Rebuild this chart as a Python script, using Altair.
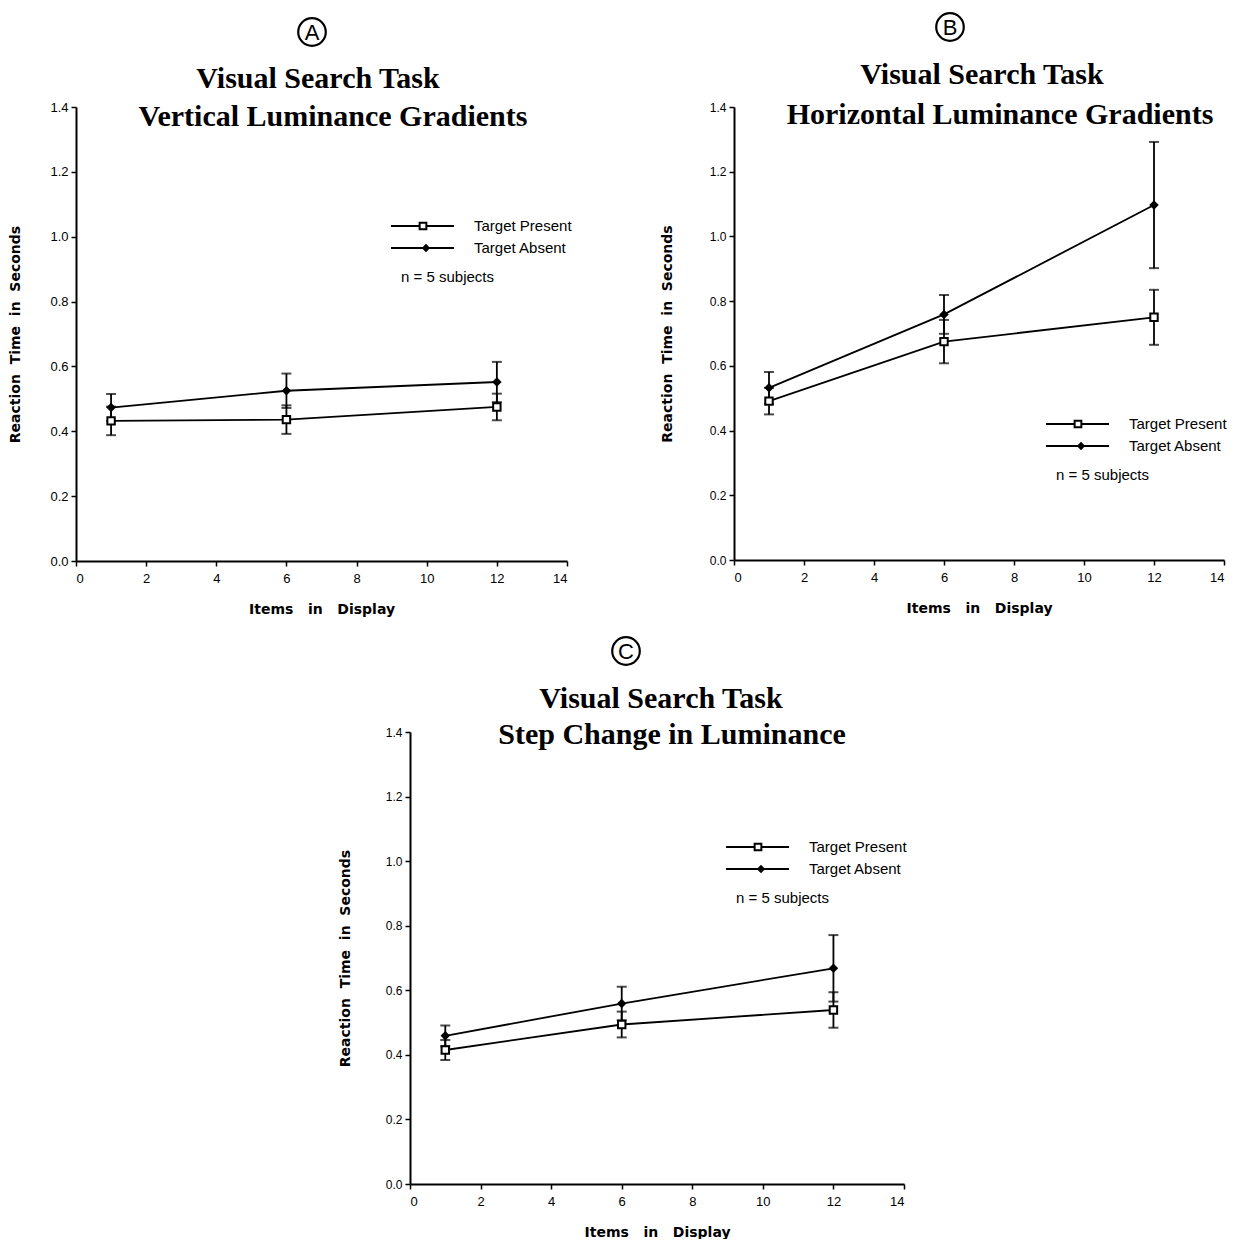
import altair as alt
import pandas as pd

# ---- data ----
items = [1, 6, 12]

a_present = [0.432, 0.436, 0.475]
a_present_err = [0.044, 0.044, 0.041]
a_absent = [0.473, 0.525, 0.552]
a_absent_err = [0.042, 0.053, 0.062]

b_present = [0.491, 0.675, 0.750]
b_present_err = [0.041, 0.067, 0.085]
b_absent = [0.532, 0.759, 1.097]
b_absent_err = [0.049, 0.060, 0.195]

c_present = [0.415, 0.494, 0.539]
c_present_err = [0.031, 0.040, 0.055]
c_absent = [0.459, 0.559, 0.668]
c_absent_err = [0.032, 0.052, 0.103]

series_names = ["Target Present", "Target Absent"]
x_ticks = list(range(0, 15))
y_ticks = [round(i * 0.1, 1) for i in range(0, 15)]

NB = "\u00a0"
x_title = f"Items{NB}{NB}{NB}in{NB}{NB}{NB}Display"
y_title = f"Reaction{NB}{NB}Time{NB}{NB}in{NB}{NB}Seconds"

FONT = "Liberation Sans"
TFONT = "DejaVu Sans"
SERIF = "Liberation Serif"


def make_df(present, present_err, absent, absent_err):
    rows = []
    for x, v, e in zip(items, present, present_err):
        rows.append({"items": x, "rt": v, "lo": v - e, "hi": v + e, "series": series_names[0]})
    for x, v, e in zip(items, absent, absent_err):
        rows.append({"items": x, "rt": v, "lo": v - e, "hi": v + e, "series": series_names[1]})
    return pd.DataFrame(rows)


def panel(letter, line1, line2, df, w, h, lab_size, ytitle_pad,
          letter_xy, t1_xy, t2_xy, leg_y, leg_x0):
    xs = alt.Scale(domain=[0, 14], nice=False)
    ys = alt.Scale(domain=[0, 1.4], nice=False)
    xaxis = alt.Axis(values=x_ticks, title=x_title,
                     labelExpr="datum.value % 2 == 0 ? datum.label : ''",
                     labelFontSize=13, titlePadding=17,
                     labelPadding=6)
    yaxis = alt.Axis(values=y_ticks, title=y_title,
                     labelExpr="round(datum.value*10) % 2 == 0 ? format(datum.value, '.1f') : ''",
                     labelFontSize=lab_size, titlePadding=ytitle_pad)
    base = alt.Chart(df)
    lines = base.mark_line(color="black", strokeWidth=1.8).encode(
        x=alt.X("items:Q", scale=xs, axis=xaxis),
        y=alt.Y("rt:Q", scale=ys, axis=yaxis),
        detail="series:N",
    )
    bars = base.mark_rule(color="black", strokeWidth=1.8).encode(
        x="items:Q", y="lo:Q", y2="hi:Q")
    cap_lo = base.mark_tick(color="black", thickness=2, size=10, orient="horizontal").encode(
        x="items:Q", y="lo:Q")
    cap_hi = base.mark_tick(color="black", thickness=2, size=10, orient="horizontal").encode(
        x="items:Q", y="hi:Q")
    pres = base.transform_filter(alt.datum.series == series_names[0]).mark_point(
        shape="square", filled=True, fill="white", stroke="black", strokeWidth=2, size=55, opacity=1
    ).encode(x="items:Q", y="rt:Q")
    absn = base.transform_filter(alt.datum.series == series_names[1]).mark_point(
        shape="diamond", filled=True, color="black", size=90, opacity=1
    ).encode(x="items:Q", y="rt:Q")

    one = alt.Data(values=[{"k": 0}])
    ann = []
    ann.append(alt.Chart(one).mark_point(shape="circle", filled=False, color="black",
                                         strokeWidth=2.2, size=760, opacity=1).encode(
        x=alt.value(letter_xy[0]), y=alt.value(letter_xy[1])))
    ann.append(alt.Chart(one).mark_text(text=letter, font=FONT, fontSize=22, color="black",
                                        baseline="middle", align="center").encode(
        x=alt.value(letter_xy[0]), y=alt.value(letter_xy[1] + 1)))
    ann.append(alt.Chart(one).mark_text(text=line1, font=SERIF, fontSize=30, fontWeight="bold",
                                        color="black", baseline="middle", align="center").encode(
        x=alt.value(t1_xy[0]), y=alt.value(t1_xy[1])))
    ann.append(alt.Chart(one).mark_text(text=line2, font=SERIF, fontSize=30, fontWeight="bold",
                                        color="black", baseline="middle", align="center").encode(
        x=alt.value(t2_xy[0]), y=alt.value(t2_xy[1])))
    # legend
    for i, nm in enumerate(series_names):
        yy = leg_y + i * 22
        ann.append(alt.Chart(one).mark_rule(color="black", strokeWidth=1.8).encode(
            x=alt.value(leg_x0), x2=alt.value(leg_x0 + 63), y=alt.value(yy)))
        if i == 0:
            ann.append(alt.Chart(one).mark_point(shape="square", filled=True, fill="white",
                                                 stroke="black", strokeWidth=2, size=45,
                                                 opacity=1).encode(
                x=alt.value(leg_x0 + 32), y=alt.value(yy)))
        else:
            ann.append(alt.Chart(one).mark_point(shape="diamond", filled=True, color="black",
                                                 size=70, opacity=1).encode(
                x=alt.value(leg_x0 + 35), y=alt.value(yy)))
        ann.append(alt.Chart(one).mark_text(text=nm, font=FONT, fontSize=15, color="black",
                                            align="left", baseline="middle").encode(
            x=alt.value(leg_x0 + 83), y=alt.value(yy)))
    ann.append(alt.Chart(one).mark_text(text="n = 5 subjects", font=FONT, fontSize=15,
                                        color="black", align="left", baseline="middle").encode(
        x=alt.value(leg_x0 + 10), y=alt.value(leg_y + 51)))

    return alt.layer(lines, bars, cap_lo, cap_hi, pres, absn, *ann).properties(width=w, height=h)


pA = panel("A", "Visual Search Task", "Vertical Luminance Gradients",
           make_df(a_present, a_present_err, a_absent, a_absent_err),
           491, 454, 13, 27, (236, -75), (242, -28), (257, 10), 119, 315)
pB = panel("B", "Visual Search Task", "Horizontal Luminance Gradients",
           make_df(b_present, b_present_err, b_absent, b_absent_err),
           490, 453, 12, 35, (216, -80), (248, -32), (266, 8), 317, 312)
pC = panel("C", "Visual Search Task", "Step Change in Luminance",
           make_df(c_present, c_present_err, c_absent, c_absent_err),
           494, 452, 12, 33, (216, -81), (251, -33), (262, 3), 115, 316)

spacer = alt.Chart(alt.Data(values=[{"k": 0}])).mark_point(opacity=0).encode(
    x=alt.value(0), y=alt.value(0)).properties(width=262, height=10)

top = alt.hconcat(pA, pB, spacing=88)
bottom = alt.hconcat(spacer, pC, spacing=0)
chart = alt.vconcat(top, bottom, spacing=16).properties(
    padding={"top": 0, "left": 0, "right": 0, "bottom": 0}
).configure_view(stroke=None).configure_axis(
    grid=False, domainColor="black", domainWidth=2, tickColor="black", tickWidth=1.5,
    tickSize=5, labelColor="black", titleColor="black", labelFont=FONT, titleFont=TFONT,
    titleFontSize=14, titleFontWeight="bold", labelPadding=3,
)

chart.save("out.html", embed_options={"renderer": "svg", "actions": False})
